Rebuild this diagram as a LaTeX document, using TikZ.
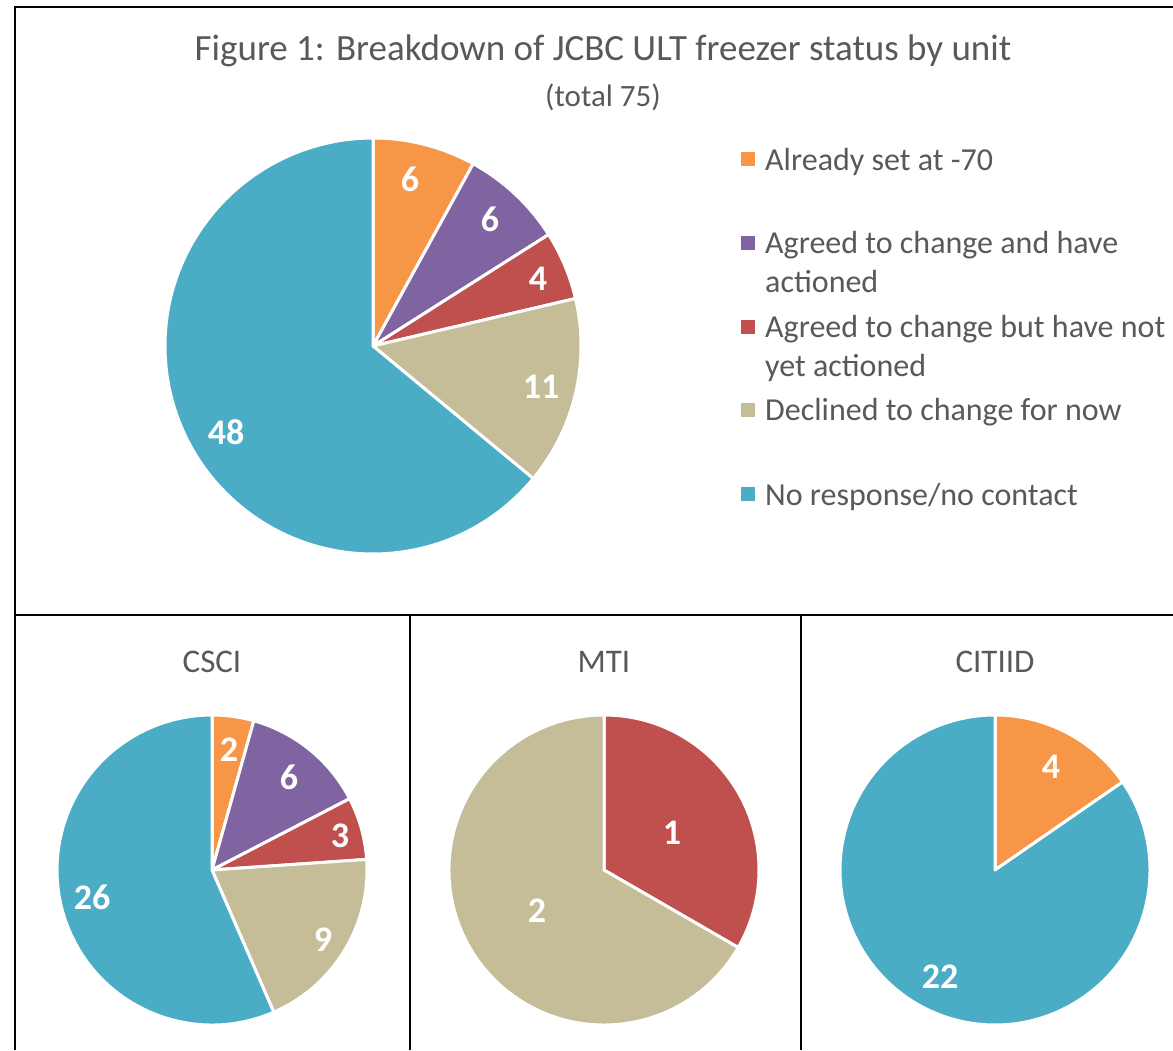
\documentclass[tikz,border=0pt]{standalone}
\usepackage{fontspec}
\setmainfont{Carlito}
\definecolor{cOr}{HTML}{F79646}
\definecolor{cPu}{HTML}{8064A2}
\definecolor{cRe}{HTML}{C0504D}
\definecolor{cTa}{HTML}{C4BD97}
\definecolor{cBl}{HTML}{4BACC6}
\definecolor{txt}{HTML}{595959}
\newcommand{\wedgeslice}[5]{% center, radius, start, end, color
  \fill[#5, draw=white, line width=3pt, line join=round] (#1) -- ++(#3:#2) arc[start angle=#3, end angle=#4, radius=#2] -- cycle;}
\begin{document}
\begin{tikzpicture}[x=1pt,y=1pt,
  frame/.style={line width=2pt, black},
  title/.style={font=\fontsize{37}{42}\selectfont, text=txt, inner sep=0},
  subtitle/.style={font=\fontsize{31}{36}\selectfont, text=txt, inner sep=0},
  ptitle/.style={font=\fontsize{33}{38}\selectfont, text=txt, inner sep=0},
  leg/.style={font=\fontsize{32}{39}\selectfont, text=txt, inner sep=0, anchor=west, align=left},
  val/.style={font=\bfseries\fontsize{36}{40}\selectfont, text=white, inner sep=0},
  sw/.style={minimum size=14pt, inner sep=0},
]
\useasboundingbox (0,0) rectangle (1173,1050);
\fill[white] (0,0) rectangle (1173,1050);
% frames
\draw[frame] (1173,1043) -- (14.5,1043) -- (14.5,0);
\draw[frame] (14.5,435) -- (1173,435);
\draw[frame] (409.5,435) -- (409.5,0);
\draw[frame] (801,435) -- (801,0);

% titles
\node[title] (t1) at (603,999) {Figure 1: Breakdown of JCBC ULT freezer status by unit};
\node[subtitle] (t2) at (603,953) {(total 75)};

% main pie
\coordinate (mc) at (373,704);
\wedgeslice{mc}{208}{90}{61.2}{cOr}
\wedgeslice{mc}{208}{61.2}{32.4}{cPu}
\wedgeslice{mc}{208}{32.4}{13.2}{cRe}
\wedgeslice{mc}{208}{13.2}{-39.6}{cTa}
\wedgeslice{mc}{208}{-39.6}{-270}{cBl}
\node[val] (m1) at (410,871) {6};
\node[val] (m2) at (490,831) {6};
\node[val] (m3) at (538,771) {4};
\node[val] (m4) at (541,663) {11};
\node[val] (m5) at (226,618) {48};

% legend
\node[sw, fill=cOr] (s1) at (748,891) {};
\node[leg] (l1) at (765,888.5) {Already set at -70};
\node[sw, fill=cPu] (s2) at (748,806.5) {};
\node[leg, anchor=north west] (l2) at (765,819) {Agreed to change and have\\actioned};
\node[sw, fill=cRe] (s3) at (748,722.5) {};
\node[leg, anchor=north west] (l3) at (765,735) {Agreed to change but have not\\yet actioned};
\node[sw, fill=cTa] (s4) at (748,640) {};
\node[leg] (l4) at (765,637.5) {Declined to change for now};
\node[sw, fill=cBl] (s5) at (748,556) {};
\node[leg] (l5) at (765,553.5) {No response/no contact};

% CSCI
\node[ptitle] (p1) at (212,388) {CSCI};
\coordinate (c1) at (212,180);
\wedgeslice{c1}{155}{90}{74.348}{cOr}
\wedgeslice{c1}{155}{74.348}{27.391}{cPu}
\wedgeslice{c1}{155}{27.391}{3.913}{cRe}
\wedgeslice{c1}{155}{3.913}{-66.522}{cTa}
\wedgeslice{c1}{155}{-66.522}{-270}{cBl}
\node[val] (a1) at (229,300) {2};
\node[val] (a2) at (289,273) {6};
\node[val] (a3) at (340,214) {3};
\node[val] (a4) at (323,110) {9};
\node[val] (a5) at (92,153) {26};

% MTI
\node[ptitle] (p2) at (604,388) {MTI};
\coordinate (c2) at (604,180);
\wedgeslice{c2}{155}{90}{-30}{cRe}
\wedgeslice{c2}{155}{-30}{-270}{cTa}
\node[val] (b1) at (672,217) {1};
\node[val] (b2) at (537,139) {2};

% CITIID
\node[ptitle] (p3) at (995,388) {CITIID};
\coordinate (c3) at (995,180);
\wedgeslice{c3}{155}{90}{34.615}{cOr}
\wedgeslice{c3}{155}{34.615}{-270}{cBl}
\node[val] (d1) at (1051,283) {4};
\node[val] (d2) at (940,73) {22};
\end{tikzpicture}
\end{document}
